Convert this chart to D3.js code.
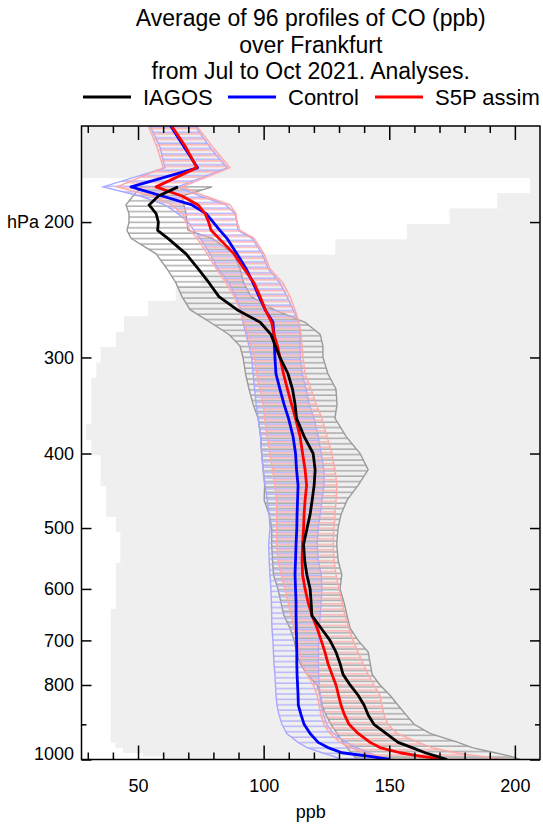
<!DOCTYPE html>
<html>
<head>
<meta charset="utf-8">
<script src="https://cdn.jsdelivr.net/npm/d3@7"></script>
<style>
  body { margin: 0; background: #fff; }
  text { font-family: "Liberation Sans", Arial, sans-serif; }
</style>
</head>
<body>
<svg id="chart" width="543" height="827"></svg>
<script>
// pressure levels (hPa) of the profiles
const pressure = [150,160,170,180,185,190,195,200,205,210,220,230,240,250,260,270,280,290,300,315,330,345,360,380,400,420,440,460,480,500,525,550,575,600,625,650,675,700,725,750,775,800,825,850,875,900,925,950,965,980,990,1000];

// IAGOS observations (ppb), no data above 180 hPa
const iagosMean = [null,null,null,65.9,58.1,54.4,57.2,58.1,57.8,61.9,69.1,73.9,78.3,82.2,89.4,98.6,102.9,104.7,106.5,109.7,111.5,112.5,113.1,116.1,119.7,120.5,120.1,119.3,118.5,117.3,115.9,116.3,117.2,118.5,118.9,119.2,122.9,126.4,128.8,130.4,131.6,134.4,137.6,140.0,141.6,143.9,148.7,153.5,159.1,164.3,168.6,173.0];
const iagosLo = [null,null,null,51.2,48.0,45.2,46.4,46.4,45.6,47.2,57.2,61.5,65.1,67.5,70.7,78.7,86.2,90.6,91.8,92.8,94.2,95.8,97.8,98.8,99.2,99.8,100.4,100.2,102.2,103.2,103.2,103.5,103.9,105.7,106.9,108.1,110.5,112.1,113.1,114.5,117.3,121.3,122.5,123.3,124.8,126.8,129.2,131.6,133.2,134.8,136.0,137.2];
const iagosHi = [null,null,null,79.5,67.5,68.3,69.1,69.5,69.9,79.5,88.2,90.6,92.0,95.0,104.0,116.5,122.5,123.6,123.6,125.6,128.8,129.2,128.4,132.8,138.4,141.6,137.6,133.2,130.8,129.6,129.1,129.6,131.1,130.4,132.0,133.2,134.4,137.6,141.6,142.4,143.2,146.3,150.3,153.5,156.7,159.9,166.2,177.4,183.0,192.1,198.1,202.1];

// Control run
const controlMean = [63.0,68.5,73.7,47.2,59.6,71.5,77.1,79.9,82.6,85.4,89.4,93.0,95.8,98.2,100.6,103.7,104.1,104.3,104.5,104.9,106.5,108.1,109.9,111.7,112.7,113.1,113.7,113.5,113.3,113.2,112.9,112.7,112.5,112.7,112.9,112.9,113.0,113.1,113.2,113.2,113.3,113.5,113.7,113.8,114.9,116.1,118.5,121.7,125.6,131.2,141.6,150.3];
const controlLo = [54.8,58.8,60.7,36.1,50.8,60.7,65.9,69.9,72.3,74.7,78.7,81.8,86.2,89.0,91.0,91.8,93.0,94.2,95.2,95.8,96.4,97.0,97.8,98.8,99.2,99.8,100.6,101.4,102.2,102.5,102.0,102.2,102.5,102.9,103.1,103.2,103.3,103.7,103.9,104.1,104.5,104.7,104.9,105.3,106.1,107.3,109.2,113.7,117.3,123.2,127.6,131.0];
const controlHi = [72.7,78.7,85.4,65.9,74.7,85.0,88.6,89.4,89.8,95.4,99.4,101.8,106.5,109.3,111.7,114.1,114.5,114.5,114.5,115.3,116.9,118.1,120.1,121.7,122.9,124.0,124.0,123.2,122.5,121.7,121.3,121.7,122.9,123.2,122.9,122.5,122.1,121.9,121.8,121.8,121.9,122.1,122.5,122.9,123.8,125.2,127.7,133.0,137.0,142.0,145.0,148.0];

// S5P assimilation run
const s5pMean = [63.4,69.1,73.4,57.2,67.5,73.9,76.7,78.1,79.1,82.2,88.2,92.2,96.2,98.6,100.6,103.2,104.1,105.5,106.5,107.9,109.5,111.1,112.7,114.5,115.5,116.5,117.1,116.5,116.1,115.9,115.5,115.3,115.5,116.5,117.7,119.3,121.3,122.9,124.4,125.6,127.2,128.8,129.8,130.8,132.2,134.0,137.6,142.4,146.3,154.3,162.3,172.2];
const s5pLo = [54.1,57.6,60.0,41.6,55.6,63.5,67.5,69.1,70.7,73.5,77.5,81.1,85.0,88.2,90.6,92.2,93.8,95.0,96.4,97.2,98.6,99.8,100.4,101.4,102.5,103.5,104.5,105.1,105.2,105.2,105.2,105.7,106.9,108.5,109.7,110.9,112.1,113.3,114.3,115.3,117.3,119.7,121.3,122.1,122.7,124.0,126.4,130.4,134.4,140.4,145.5,150.3];
const s5pHi = [73.4,79.9,86.6,67.5,76.7,86.6,89.0,89.4,90.6,96.2,100.2,102.5,107.7,110.5,112.5,114.1,114.9,115.3,115.7,116.5,118.9,120.9,123.2,125.2,127.2,128.4,129.2,128.8,128.4,128.0,127.7,128.0,128.8,130.0,131.2,132.4,134.0,135.6,137.6,139.6,141.6,143.9,146.3,147.1,147.9,149.5,153.1,161.5,167.0,176.2,186.1,196.1];

// grey background: layer edges (hPa) and left limit of the shading (ppb)
const grayEdges = [150,175.1,183.4,192,201.1,210.6,220.5,230.9,241.8,253.2,265.2,277.7,290.8,304.6,318.9,334,349.8,366.3,383.6,401.7,420.7,440.5,461.3,483.1,505.9,529.8,554.8,581,608.5,637.2,950,965,980,990,1000];
const grayLeft = [20,206,193,174,157,128.5,90,75,65,54,44.4,41.2,35.1,33.4,31.4,31.4,31.4,29.3,31.4,35.1,35.1,37.3,37.3,41.2,43,43,41.2,41.2,41.2,39.1,41,44,52,60];

const xMajor = [50,100,150,200];
const xMinor = [30,40,60,70,80,90,110,120,130,140,160,170,180,190];
const yMajor = [200,300,400,500,600,700,800,1000];
const yMinor = [900];

const titleLines = ["Average of 96 profiles of CO (ppb)", "over Frankfurt", "from Jul to Oct 2021. Analyses."];
const legendItems = [
  {name: "IAGOS", color: "#000000"},
  {name: "Control", color: "#0000ff"},
  {name: "S5P assim", color: "#ff0000"}
];

const plotLeft = 81.5, plotRight = 540, plotTop = 126, plotBottom = 759.5;

const x = d3.scaleLinear().domain([27.5, 210]).range([plotLeft, plotRight]);
const y = d3.scaleLog().domain([150, 1000]).range([plotTop, plotBottom]);

const svg = d3.select("#chart");
const defs = svg.append("defs");
defs.append("clipPath").attr("id", "plot-clip")
  .append("rect").attr("x", plotLeft).attr("y", plotTop)
  .attr("width", plotRight - plotLeft).attr("height", plotBottom - plotTop);

function hatch(id, color, offset) {
  defs.append("pattern")
    .attr("id", id)
    .attr("patternUnits", "userSpaceOnUse")
    .attr("width", 10).attr("height", 5.4)
    .append("line")
    .attr("x1", 0).attr("x2", 10)
    .attr("y1", offset).attr("y2", offset)
    .attr("stroke", color).attr("stroke-width", 1.2);
}
hatch("hatch-gray", "#9a9a9a", 1.0);
hatch("hatch-blue", "#a8a8ff", 2.8);
hatch("hatch-red", "#ffa8a8", 4.4);

const plot = svg.append("g").attr("clip-path", "url(#plot-clip)");

// background shading
plot.selectAll(".bg")
  .data(grayLeft)
  .enter().append("rect")
  .attr("class", "bg")
  .attr("x", d => x(d))
  .attr("y", (d, i) => y(grayEdges[i]))
  .attr("width", d => plotRight - x(d) + 2)
  .attr("height", (d, i) => y(grayEdges[i + 1]) - y(grayEdges[i]) + 0.3)
  .attr("fill", "#efefef");

const series = [
  {mean: iagosMean, lo: iagosLo, hi: iagosHi, color: "#000000", band: "#9a9a9a", hatch: "hatch-gray"},
  {mean: controlMean, lo: controlLo, hi: controlHi, color: "#0000ff", band: "#a8a8ff", hatch: "hatch-blue"},
  {mean: s5pMean, lo: s5pLo, hi: s5pHi, color: "#ff0000", band: "#ffa8a8", hatch: "hatch-red"}
];

const area = d3.area()
  .defined(d => d.lo != null)
  .y(d => y(d.p))
  .x0(d => x(d.lo))
  .x1(d => x(d.hi));

const line = d3.line()
  .defined(d => d.v != null)
  .x(d => x(d.v))
  .y(d => y(d.p));

series.forEach(s => {
  const rows = pressure.map((p, i) => ({p: p, lo: s.lo[i], hi: s.hi[i]}));
  plot.append("path")
    .datum(rows)
    .attr("d", area)
    .attr("fill", `url(#${s.hatch})`)
    .attr("stroke", s.band)
    .attr("stroke-width", 1.4);
});

[series[1], series[2], series[0]].forEach(s => {
  const rows = pressure.map((p, i) => ({p: p, v: s.mean[i]}));
  plot.append("path")
    .datum(rows)
    .attr("d", line)
    .attr("fill", "none")
    .attr("stroke", s.color)
    .attr("stroke-width", 2.8)
    .attr("stroke-linejoin", "round");
});

// axes
function styleAxis(g) {
  g.select(".domain").remove();
  g.selectAll(".tick line").attr("stroke", "#000").attr("stroke-width", 1.5);
  g.selectAll(".tick text").attr("fill", "#000")
    .style("font-family", '"Liberation Sans", Arial, sans-serif')
    .style("font-size", "18px");
}

svg.append("g").attr("transform", `translate(0,${plotBottom})`)
  .call(d3.axisBottom(x).tickValues(xMajor).tickSize(-14).tickPadding(20).tickFormat(d3.format("d")))
  .call(styleAxis);
svg.append("g").attr("transform", `translate(0,${plotBottom})`)
  .call(d3.axisBottom(x).tickValues(xMinor).tickSize(-7).tickFormat(""))
  .call(styleAxis);
svg.append("g").attr("transform", `translate(0,${plotTop})`)
  .call(d3.axisTop(x).tickValues(xMajor).tickSize(-14).tickFormat(""))
  .call(styleAxis);
svg.append("g").attr("transform", `translate(0,${plotTop})`)
  .call(d3.axisTop(x).tickValues(xMinor).tickSize(-7).tickFormat(""))
  .call(styleAxis);

svg.append("g").attr("transform", `translate(${plotLeft},0)`)
  .call(d3.axisLeft(y).tickValues(yMajor).tickSize(-10).tickPadding(7.5)
    .tickFormat(d => d === 200 ? "hPa 200" : d))
  .call(styleAxis)
  .call(g => g.selectAll(".tick text").filter(d => d === 1000).attr("dy", "0.0em"));
svg.append("g").attr("transform", `translate(${plotLeft},0)`)
  .call(d3.axisLeft(y).tickValues(yMinor).tickSize(-5).tickFormat(""))
  .call(styleAxis);
svg.append("g").attr("transform", `translate(${plotRight},0)`)
  .call(d3.axisRight(y).tickValues(yMajor).tickSize(-10).tickFormat(""))
  .call(styleAxis);
svg.append("g").attr("transform", `translate(${plotRight},0)`)
  .call(d3.axisRight(y).tickValues(yMinor).tickSize(-5).tickFormat(""))
  .call(styleAxis);

svg.append("rect")
  .attr("x", plotLeft).attr("y", plotTop)
  .attr("width", plotRight - plotLeft).attr("height", plotBottom - plotTop)
  .attr("fill", "none").attr("stroke", "#000").attr("stroke-width", 1.5);

svg.append("text")
  .attr("x", (plotLeft + plotRight) / 2).attr("y", 818)
  .attr("text-anchor", "middle")
  .style("font-size", "18px")
  .text("ppb");

// title
svg.selectAll(".title")
  .data(titleLines)
  .enter().append("text")
  .attr("class", "title")
  .attr("x", (plotLeft + plotRight) / 2)
  .attr("y", (d, i) => 26 + i * 26.5)
  .attr("text-anchor", "middle")
  .style("font-size", "23px")
  .text(d => d);

// legend
const legendX = [83, 228, 375];
const legend = svg.selectAll(".legend")
  .data(legendItems)
  .enter().append("g")
  .attr("class", "legend")
  .attr("transform", (d, i) => `translate(${legendX[i]},97)`);
legend.append("line")
  .attr("x1", 0).attr("x2", 48)
  .attr("stroke", d => d.color).attr("stroke-width", 2.8);
legend.append("text")
  .attr("x", 60).attr("y", 8)
  .style("font-size", "22px")
  .text(d => d.name);
</script>
</body>
</html>
